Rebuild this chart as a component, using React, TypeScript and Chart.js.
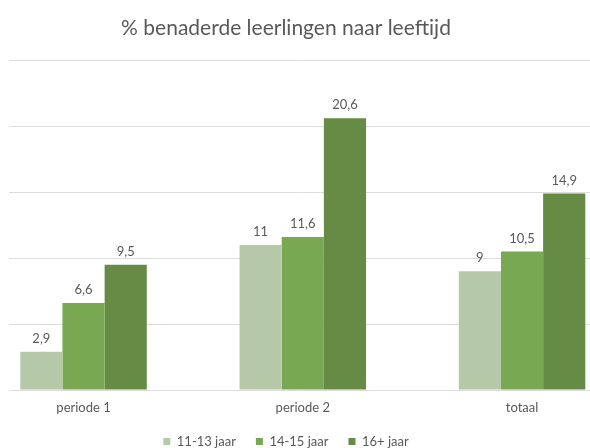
import React, { useEffect, useRef } from "react";
import { Chart, registerables } from "chart.js";

Chart.register(...registerables);

const categories = ["periode 1", "periode 2", "totaal"];
const seriesNames = ["11-13 jaar", "14-15 jaar", "16+ jaar"];
const age1113 = [2.9, 11, 9];
const age1415 = [6.6, 11.6, 10.5];
const age16 = [9.5, 20.6, 14.9];
const seriesColors = ["#b5c9a8", "#78a851", "#658b45"];
const titleText = "% benaderde leerlingen naar leeftijd";

const FONT = "Lato, 'Open Sans', sans-serif";
const TEXT = "#595959";

const valueLabels = {
  id: "valueLabels",
  afterDatasetsDraw(chart: any) {
    const ctx = chart.ctx;
    ctx.save();
    ctx.font = `13px ${FONT}`;
    ctx.fillStyle = TEXT;
    ctx.textAlign = "center";
    ctx.textBaseline = "middle";
    chart.data.datasets.forEach((ds: any, di: number) => {
      const meta = chart.getDatasetMeta(di);
      meta.data.forEach((el: any, i: number) => {
        const v = ds.data[i].y;
        ctx.fillText(String(v).replace(".", ","), el.x, el.y - 13);
      });
    });
    ctx.restore();
  },
};

export default function App() {
  const ref = useRef<HTMLCanvasElement>(null);
  useEffect(() => {
    document.body.style.margin = "0";
    const all = [age1113, age1415, age16];
    const chart = new Chart(ref.current!, {
      type: "bar",
      data: {
        datasets: all.map((arr, si) => ({
          label: seriesNames[si],
          data: arr.map((v, i) => ({ x: i, y: v })),
          backgroundColor: seriesColors[si],
          borderWidth: 0,
          categoryPercentage: 0.577,
          barPercentage: 1,
        })),
      },
      options: {
        animation: false,
        responsive: false,
        maintainAspectRatio: false,
        layout: { padding: { left: -18, right: 0, top: 0, bottom: -10 } },
        plugins: {
          title: {
            display: true,
            text: titleText,
            color: TEXT,
            font: { family: FONT, size: 21, weight: "normal" },
            padding: { top: 16, bottom: 19 },
          },
          legend: {
            position: "bottom",
            labels: {
              boxWidth: 7,
              boxHeight: 7,
              color: TEXT,
              font: { family: FONT, size: 13 },
              padding: 20,
            },
          },
          tooltip: { enabled: false },
        },
        scales: {
          x: {
            type: "linear",
            min: -0.34,
            max: 2.31,
            offset: false,
            afterBuildTicks: (scale: any) => {
              scale.ticks = categories.map((_, i) => ({ value: i }));
            },
            afterFit: (scale: any) => {
              scale.height = 25;
            },
            ticks: {
              callback: (v: any) => categories[Math.round(Number(v))] ?? "",
              color: TEXT,
              font: { family: FONT, size: 13 },
              padding: 10,
              maxRotation: 0,
              autoSkip: false,
            },
            grid: { display: false, drawTicks: false },
            border: { display: false },
          },
          y: {
            min: 0,
            max: 25,
            afterFit: (scale: any) => {
              scale.width = 27;
            },
            ticks: { display: false, stepSize: 5 },
            grid: { color: "#dcdcdc", drawTicks: false, lineWidth: 1 },
            border: { display: false },
          },
        },
      },
      plugins: [valueLabels],
    } as any);
    return () => chart.destroy();
  }, []);
  return (
    <div style={{ position: "absolute", left: 0, top: 0, width: 590, height: 448, background: "#fff" }}>
      <canvas ref={ref} width={590} height={448} />
    </div>
  );
}
